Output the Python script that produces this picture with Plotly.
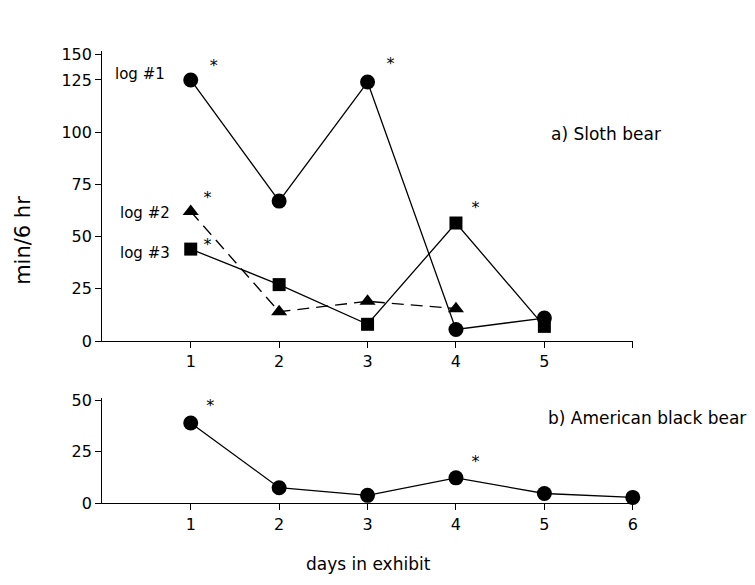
import plotly.graph_objects as go

# ---- data ----
days_top = [1, 2, 3, 4, 5]
log1 = [125, 67, 124, 5.5, 11]
log2_days = [1, 2, 3, 4]
log2 = [62, 14, 19, 15.5]
log3 = [44, 27, 8, 56.5, 7]

days_bot = [1, 2, 3, 4, 5, 6]
black = [39, 7.5, 3.8, 12.3, 4.7, 2.8]

star_top_x = [1.26, 1.19, 1.19, 3.26, 4.22]
star_top_y = [131, 68, 45.5, 132, 63]
star_bot_x = [1.22, 4.22]
star_bot_y = [47, 19.7]

top_ticks = [0, 25, 50, 75, 100, 125, 137]
top_ticktext = ["0", "25", "50", "75", "100", "125", "150"]
bot_ticks = [0, 25, 50]
x_ticks = [1, 2, 3, 4, 5, 6]
x_top_text = ["1", "2", "3", "4", "5", ""]
x_bot_text = ["1", "2", "3", "4", "5", "6"]

FONT = "DejaVu Sans"
W, H = 755, 585


def px(x):
    return x / W


def py(y):
    return 1 - y / H


line = dict(color="black", width=1.3)

fig = go.Figure()
fig.add_trace(go.Scatter(x=days_top, y=log1, mode="lines+markers", line=line,
                         marker=dict(symbol="circle", size=15, color="black"),
                         xaxis="x", yaxis="y", cliponaxis=False))
fig.add_trace(go.Scatter(x=log2_days, y=log2, mode="lines+markers",
                         line=dict(color="black", width=1.3, dash="12px,7px"),
                         marker=dict(symbol="triangle-up", size=14, color="black"),
                         xaxis="x", yaxis="y", cliponaxis=False))
fig.add_trace(go.Scatter(x=days_top, y=log3, mode="lines+markers", line=line,
                         marker=dict(symbol="square", size=13, color="black"),
                         xaxis="x", yaxis="y", cliponaxis=False))
fig.add_trace(go.Scatter(x=star_top_x, y=star_top_y, mode="text", text=["*"] * len(star_top_x),
                         textfont=dict(family=FONT, size=16, color="black"),
                         xaxis="x", yaxis="y", cliponaxis=False))
fig.add_trace(go.Scatter(x=days_bot, y=black, mode="lines+markers", line=line,
                         marker=dict(symbol="circle", size=15, color="black"),
                         xaxis="x2", yaxis="y2", cliponaxis=False))
fig.add_trace(go.Scatter(x=star_bot_x, y=star_bot_y, mode="text", text=["*"] * len(star_bot_x),
                         textfont=dict(family=FONT, size=16, color="black"),
                         xaxis="x2", yaxis="y2", cliponaxis=False))

x0, x1 = px(103), px(637)
axis_common = dict(showline=True, linecolor="black", linewidth=1.3, ticks="outside",
                   tickcolor="black", ticklen=6, tickwidth=1.3, showgrid=False,
                   zeroline=False, tickfont=dict(family=FONT, size=16, color="black"))

fig.update_layout(
    width=W, height=H, margin=dict(l=0, r=0, t=0, b=0),
    paper_bgcolor="white", plot_bgcolor="white", showlegend=False,
    xaxis=dict(domain=[x0, x1], range=[0, 6], anchor="y", tickvals=x_ticks,
               ticktext=x_top_text, **axis_common),
    yaxis=dict(domain=[py(344), py(45)], range=[0, 139], anchor="x",
               tickvals=top_ticks, ticktext=top_ticktext, **axis_common),
    xaxis2=dict(domain=[x0, x1], range=[0, 6], anchor="y2", tickvals=x_ticks,
                ticktext=x_bot_text, **axis_common),
    yaxis2=dict(domain=[py(511), py(403)], range=[0, 51], anchor="x2",
                tickvals=bot_ticks, **axis_common),
)

ann = [
    dict(text="log #1", x=0.73, y=127.8, xref="x", yref="y", xanchor="right",
         font=dict(family=FONT, size=15)),
    dict(text="log #2", x=0.79, y=61.3, xref="x", yref="y", xanchor="right",
         font=dict(family=FONT, size=15)),
    dict(text="log #3", x=0.79, y=42.3, xref="x", yref="y", xanchor="right",
         font=dict(family=FONT, size=15)),
    dict(text="a) Sloth bear", x=px(553), y=py(131), xref="paper", yref="paper",
         xanchor="left", font=dict(family=FONT, size=17)),
    dict(text="b) American black bear", x=px(550), y=py(423), xref="paper", yref="paper",
         xanchor="left", font=dict(family=FONT, size=17)),
    dict(text="min/6 hr", x=px(23), y=py(240), xref="paper", yref="paper",
         xanchor="center", textangle=-90, font=dict(family=FONT, size=21)),
    dict(text="days in exhibit", x=px(371), y=py(574), xref="paper", yref="paper",
         xanchor="center", font=dict(family=FONT, size=17)),
]
for a in ann:
    a["showarrow"] = False
    a["yanchor"] = "middle"
    a["font"]["color"] = "black"
fig.update_layout(annotations=ann)

fig.write_html("out.html", config={"displayModeBar": False},
               post_script="document.body.style.margin='0';")
